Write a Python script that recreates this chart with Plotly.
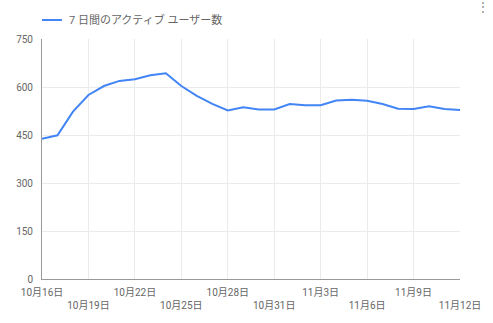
import plotly.graph_objects as go

dates = ["2023-10-%02d" % d for d in range(16, 32)] + ["2023-11-%02d" % d for d in range(1, 13)]
users = [438, 449, 523, 575, 603, 619, 624, 637, 643, 603, 572, 547, 527, 537,
         530, 530, 547, 543, 543, 558, 560, 557, 547, 532, 531, 540, 531, 528]
series_name = "7 日間のアクティブ ユーザー数"
tick_dates = ["2023-10-16", "2023-10-19", "2023-10-22", "2023-10-25", "2023-10-28",
              "2023-10-31", "2023-11-03", "2023-11-06", "2023-11-09", "2023-11-12"]
tick_labels = ["10月16日", "10月19日", "10月22日", "10月25日", "10月28日",
               "10月31日", "11月3日", "11月6日", "11月9日", "11月12日"]
y_ticks = [0, 150, 300, 450, 600, 750]

font_fam = "Roboto, 'Noto Sans CJK JP', sans-serif"
ticktext = [t if i % 2 == 0 else "<br>" + t for i, t in enumerate(tick_labels)]

fig = go.Figure()
fig.add_trace(go.Scatter(x=dates, y=users, mode="lines", name=series_name,
                         line=dict(color="#4285F4", width=2), showlegend=False))

fig.update_layout(
    width=493, height=323,
    margin=dict(l=42, r=31, t=39, b=44),
    paper_bgcolor="white", plot_bgcolor="white",
    font=dict(family=font_fam, size=10, color="#666666"),
    xaxis=dict(type="date", range=[dates[0], dates[-1]],
               tickvals=tick_dates, ticktext=ticktext,
               showgrid=True, gridcolor="#ebebeb", gridwidth=1,
               showline=True, linecolor="#999999", linewidth=1,
               ticks="", zeroline=False, ticklabelstandoff=4,
               tickfont=dict(size=10, color="#666666")),
    yaxis=dict(range=[0, 750], tickvals=y_ticks,
               showgrid=True, gridcolor="#ebebeb", gridwidth=1,
               showline=True, linecolor="#999999", linewidth=1,
               ticks="", zeroline=False, ticklabelstandoff=6,
               tickfont=dict(size=10, color="#666666")),
    shapes=[dict(type="line", xref="paper", yref="paper",
                 x0=0, x1=20 / 420, y0=(279 - 20) / 240, y1=(279 - 20) / 240,
                 line=dict(color="#4285F4", width=2))],
    annotations=[
        dict(text=series_name, xref="paper", yref="paper",
             x=25 / 420, y=(279 - 20) / 240, xanchor="left", yanchor="middle",
             showarrow=False, font=dict(size=11, color="#666666")),
        dict(text="⋮", xref="paper", yref="paper",
             x=1 + 31 / 420, y=(279 - 7) / 240, xanchor="right", yanchor="middle",
             showarrow=False, font=dict(size=12, color="#888888")),
    ],
)

fig.write_html("out.html")
